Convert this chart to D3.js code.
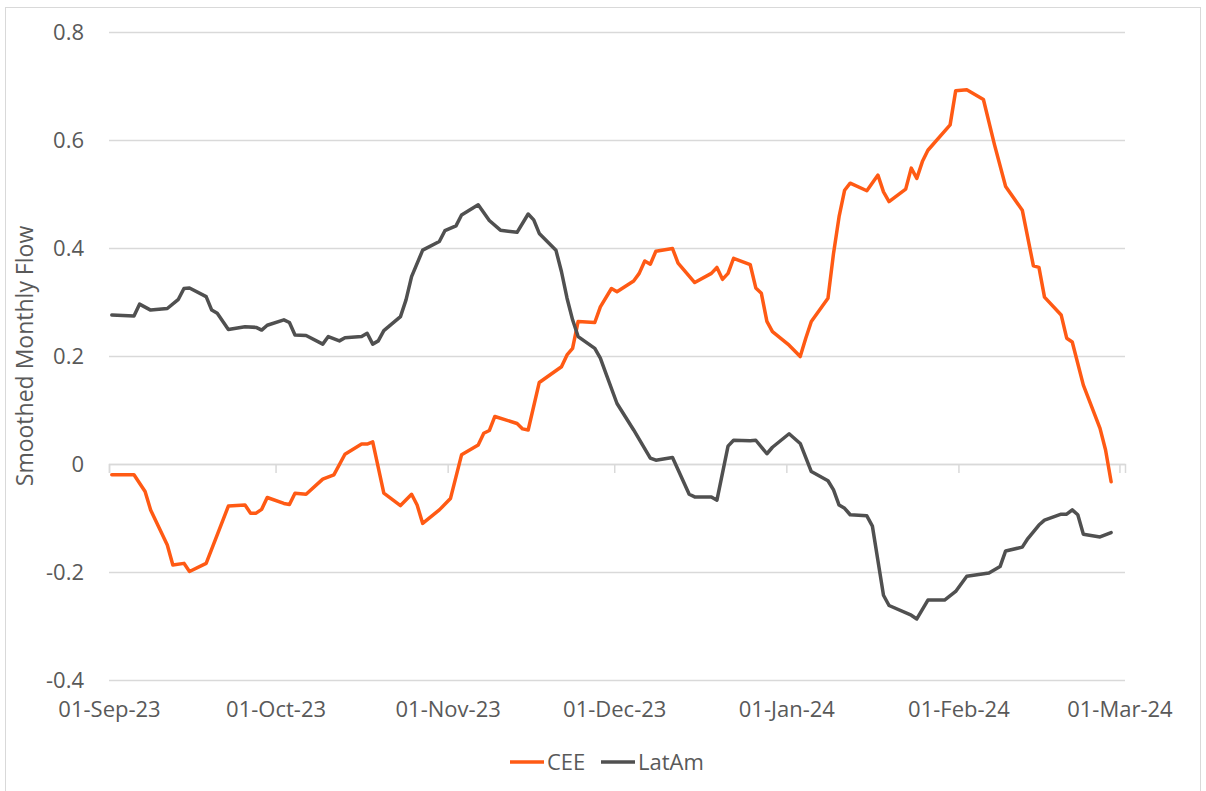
<!DOCTYPE html>
<html>
<head>
<meta charset="utf-8">
<script src="https://cdn.jsdelivr.net/npm/d3@7/dist/d3.min.js"></script>
<style>
  html, body { margin: 0; padding: 0; background: #fff; }
  svg { display: block; }
  text { font-family: "Open Sans", "Noto Sans", sans-serif; fill: #595959; }
</style>
</head>
<body>
<svg id="chart" width="1206" height="791"></svg>
<script>
// ---------------- DATA ----------------
const seriesNames = ["CEE", "LatAm"];
const seriesColors = ["#FF5A14", "#505050"];

const ceeDates = ["2023-09-01","2023-09-05","2023-09-07","2023-09-08","2023-09-11","2023-09-12","2023-09-14","2023-09-15","2023-09-18","2023-09-22","2023-09-25","2023-09-26","2023-09-27","2023-09-28","2023-09-29","2023-10-02","2023-10-03","2023-10-04","2023-10-06","2023-10-09","2023-10-11","2023-10-13","2023-10-16","2023-10-17","2023-10-18","2023-10-20","2023-10-23","2023-10-25","2023-10-26","2023-10-27","2023-10-30","2023-11-01","2023-11-03","2023-11-06","2023-11-07","2023-11-08","2023-11-09","2023-11-13","2023-11-14","2023-11-15","2023-11-17","2023-11-21","2023-11-22","2023-11-23","2023-11-24","2023-11-27","2023-11-28","2023-11-30","2023-12-01","2023-12-04","2023-12-05","2023-12-06","2023-12-07","2023-12-08","2023-12-11","2023-12-12","2023-12-15","2023-12-18","2023-12-19","2023-12-20","2023-12-21","2023-12-22","2023-12-25","2023-12-26","2023-12-27","2023-12-28","2023-12-29","2024-01-01","2024-01-03","2024-01-04","2024-01-05","2024-01-08","2024-01-09","2024-01-10","2024-01-11","2024-01-12","2024-01-15","2024-01-17","2024-01-18","2024-01-19","2024-01-22","2024-01-23","2024-01-24","2024-01-25","2024-01-26","2024-01-30","2024-01-31","2024-02-02","2024-02-05","2024-02-07","2024-02-09","2024-02-12","2024-02-14","2024-02-15","2024-02-16","2024-02-19","2024-02-20","2024-02-21","2024-02-23","2024-02-26","2024-02-27","2024-02-28"];
const ceeValues = [-0.020,-0.020,-0.051,-0.085,-0.150,-0.187,-0.184,-0.199,-0.184,-0.078,-0.076,-0.091,-0.091,-0.084,-0.062,-0.073,-0.075,-0.054,-0.056,-0.028,-0.020,0.018,0.037,0.037,0.041,-0.054,-0.077,-0.056,-0.076,-0.110,-0.085,-0.064,0.017,0.035,0.057,0.062,0.088,0.075,0.065,0.063,0.151,0.180,0.202,0.214,0.264,0.262,0.291,0.325,0.319,0.339,0.353,0.376,0.370,0.394,0.399,0.372,0.336,0.353,0.364,0.342,0.353,0.381,0.369,0.326,0.316,0.264,0.245,0.220,0.199,0.233,0.264,0.307,0.390,0.458,0.507,0.520,0.506,0.535,0.504,0.486,0.509,0.548,0.529,0.560,0.581,0.628,0.691,0.693,0.675,0.591,0.514,0.470,0.367,0.364,0.309,0.276,0.233,0.226,0.146,0.066,0.026,-0.033];

const latamDates = ["2023-09-01","2023-09-05","2023-09-06","2023-09-08","2023-09-11","2023-09-13","2023-09-14","2023-09-15","2023-09-18","2023-09-19","2023-09-20","2023-09-22","2023-09-25","2023-09-27","2023-09-28","2023-09-29","2023-10-02","2023-10-03","2023-10-04","2023-10-06","2023-10-09","2023-10-10","2023-10-12","2023-10-13","2023-10-16","2023-10-17","2023-10-18","2023-10-19","2023-10-20","2023-10-23","2023-10-24","2023-10-25","2023-10-27","2023-10-30","2023-10-31","2023-11-02","2023-11-03","2023-11-06","2023-11-08","2023-11-10","2023-11-13","2023-11-15","2023-11-16","2023-11-17","2023-11-20","2023-11-21","2023-11-22","2023-11-23","2023-11-24","2023-11-27","2023-11-28","2023-11-29","2023-12-01","2023-12-04","2023-12-07","2023-12-08","2023-12-11","2023-12-14","2023-12-15","2023-12-18","2023-12-19","2023-12-21","2023-12-22","2023-12-25","2023-12-26","2023-12-28","2023-12-29","2024-01-01","2024-01-03","2024-01-05","2024-01-08","2024-01-09","2024-01-10","2024-01-11","2024-01-12","2024-01-15","2024-01-16","2024-01-18","2024-01-19","2024-01-23","2024-01-24","2024-01-26","2024-01-29","2024-01-31","2024-02-02","2024-02-06","2024-02-08","2024-02-09","2024-02-12","2024-02-13","2024-02-15","2024-02-16","2024-02-19","2024-02-20","2024-02-21","2024-02-22","2024-02-23","2024-02-26","2024-02-28"];
const latamValues = [0.276,0.274,0.296,0.285,0.288,0.305,0.325,0.326,0.310,0.285,0.279,0.249,0.254,0.253,0.248,0.257,0.267,0.262,0.239,0.238,0.222,0.236,0.228,0.234,0.236,0.242,0.222,0.228,0.247,0.273,0.304,0.347,0.396,0.412,0.432,0.441,0.461,0.480,0.451,0.433,0.429,0.463,0.452,0.427,0.396,0.356,0.307,0.267,0.236,0.214,0.196,0.168,0.112,0.063,0.011,0.007,0.012,-0.056,-0.061,-0.061,-0.067,0.033,0.044,0.043,0.044,0.019,0.031,0.056,0.038,-0.014,-0.031,-0.048,-0.076,-0.082,-0.094,-0.096,-0.115,-0.243,-0.262,-0.280,-0.287,-0.252,-0.252,-0.236,-0.208,-0.202,-0.190,-0.161,-0.154,-0.138,-0.113,-0.104,-0.093,-0.093,-0.085,-0.094,-0.130,-0.135,-0.127];

const xTickDates = ["2023-09-01","2023-10-01","2023-11-01","2023-12-01","2024-01-01","2024-02-01","2024-03-01"];
const yTicks = [-0.4, -0.2, 0, 0.2, 0.4, 0.6, 0.8];
const yTickLabels = ["-0.4", "-0.2", "0", "0.2", "0.4", "0.6", "0.8"];
const yAxisTitle = "Smoothed Monthly Flow";

// ---------------- CHART ----------------
const parse = d3.utcParse("%Y-%m-%d");
const fmtX = d3.utcFormat("%d-%b-%y");
const svg = d3.select("#chart");

const plot = { left: 109, right: 1125, top: 32, bottom: 680 };
const x = d3.scaleUtc()
  .domain([parse("2023-09-01"), parse("2024-03-02")])
  .range([plot.left, plot.right]);
const y = d3.scaleLinear().domain([-0.4, 0.8]).range([plot.bottom, plot.top]);
const halfDay = 12 * 3600 * 1000;

// outer border
svg.append("rect")
  .attr("x", 5.5).attr("y", 7.5).attr("width", 1195).attr("height", 800)
  .attr("fill", "none").attr("stroke", "#d9d9d9").attr("stroke-width", 1);

// y grid + labels
const yAxis = d3.axisLeft(y)
  .tickValues(yTicks)
  .tickSize(-(plot.right - plot.left))
  .tickPadding(25)
  .tickFormat(d => yTickLabels[yTicks.indexOf(d)]);
const gy = svg.append("g").attr("transform", `translate(${plot.left},0)`).call(yAxis);
gy.select(".domain").remove();
gy.selectAll(".tick line").attr("stroke", "#d9d9d9").attr("stroke-width", 1.3);
gy.selectAll(".tick text").attr("font-size", 22).attr("fill", "#595959")
  .style("font-family", '"Open Sans", sans-serif');

// x axis line at zero with tick marks
const xTicks = xTickDates.map(parse);
const xAxisTicks = d3.axisBottom(x).tickValues(xTicks).tickSize(9).tickFormat("");
const gx = svg.append("g").attr("transform", `translate(0,${y(0)})`).call(xAxisTicks);
gx.select(".domain").attr("stroke", "#d9d9d9").attr("stroke-width", 1.5);
gx.selectAll(".tick line").attr("stroke", "#d9d9d9").attr("stroke-width", 1.5);

// x labels at bottom
const xAxisLabels = d3.axisBottom(x).tickValues(xTicks).tickSize(0).tickPadding(0).tickFormat(fmtX);
const gxl = svg.append("g").attr("transform", `translate(0,${plot.bottom + 21})`).call(xAxisLabels);
gxl.select(".domain").remove();
gxl.selectAll(".tick text").attr("font-size", 22).attr("fill", "#595959")
  .style("font-family", '"Open Sans", sans-serif');

// y axis title
svg.append("text")
  .attr("transform", `translate(33,${(plot.top + plot.bottom) / 2}) rotate(-90)`)
  .attr("text-anchor", "middle")
  .attr("font-size", 23)
  .text(yAxisTitle);

// lines
const line = d3.line()
  .x(d => x(new Date(d.date.getTime() + halfDay)))
  .y(d => y(d.value));

const series = [
  { name: seriesNames[0], color: seriesColors[0], data: ceeDates.map((d, i) => ({ date: parse(d), value: ceeValues[i] })) },
  { name: seriesNames[1], color: seriesColors[1], data: latamDates.map((d, i) => ({ date: parse(d), value: latamValues[i] })) }
];

svg.append("g").selectAll("path")
  .data(series)
  .join("path")
  .attr("fill", "none")
  .attr("stroke", d => d.color)
  .attr("stroke-width", 3.5)
  .attr("stroke-linejoin", "round")
  .attr("stroke-linecap", "round")
  .attr("d", d => line(d.data));

// legend
const legendItems = [
  { name: seriesNames[0], color: seriesColors[0], x: 510 },
  { name: seriesNames[1], color: seriesColors[1], x: 601 }
];
const lg = svg.append("g").selectAll("g").data(legendItems).join("g")
  .attr("transform", d => `translate(${d.x},762)`);
lg.append("line").attr("x1", 0).attr("x2", 34).attr("y1", 0).attr("y2", 0)
  .attr("stroke", d => d.color).attr("stroke-width", 3.5);
lg.append("text").attr("x", 37).attr("y", 0).attr("dy", "0.35em")
  .attr("font-size", 22).text(d => d.name);
</script>
</body>
</html>
